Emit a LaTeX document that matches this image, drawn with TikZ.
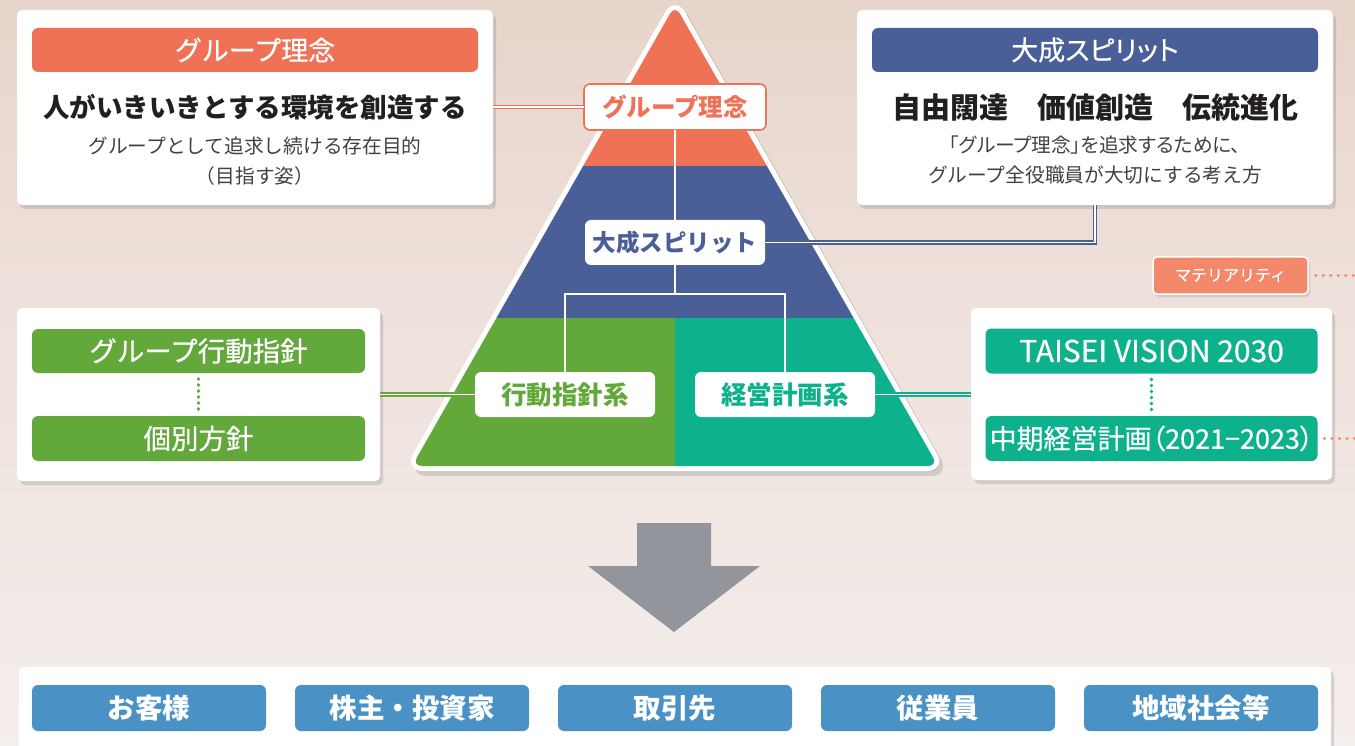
\documentclass[tikz,border=0pt]{standalone}
\usepackage{fontspec}
\newfontfamily\jp{Noto Sans CJK JP}
\newfontfamily\jpp{Noto Sans CJK JP}[RawFeature=+palt]
\newfontfamily\jpm{Noto Sans CJK JP}[FakeBold=0.5]
\newfontfamily\jpmp{Noto Sans CJK JP}[FakeBold=0.5,RawFeature=+palt]
\usetikzlibrary{shadows,calc}
\definecolor{orng}{HTML}{F07256}
\definecolor{blu}{HTML}{4A5E98}
\definecolor{grn}{HTML}{63A83B}
\definecolor{teal2}{HTML}{0DB28C}
\definecolor{btnblue}{HTML}{4A92C6}
\definecolor{salmon}{HTML}{F3886A}
\definecolor{arrowgray}{HTML}{92959B}
\definecolor{darktext}{HTML}{231F20}
\definecolor{subtext}{HTML}{444040}
\definecolor{bgtop}{HTML}{E7D5CB}
\definecolor{bgmid}{HTML}{EFE3DE}
\definecolor{bgbot}{HTML}{F4EEEC}
\tikzset{
  fs/.style={font=\jp\fontsize{#1}{#1}\selectfont},
  fsp/.style={font=\jpp\fontsize{#1}{#1}\selectfont},
  fsm/.style={font=\jpm\fontsize{#1}{#1}\selectfont},
  fsmp/.style={font=\jpmp\fontsize{#1}{#1}\selectfont},
  fsb/.style={font=\jp\bfseries\fontsize{#1}{#1}\selectfont},
  card/.style={fill=white, rounded corners=5pt, inner sep=0pt, outer sep=0pt,
    drop shadow={shadow xshift=3pt, shadow yshift=-4pt, opacity=0.18, fill=black!70}},
  bar/.style={rounded corners=6pt, inner sep=0pt, outer sep=0pt, text=white},
  pnode/.style={fill=white, rounded corners=6pt, inner sep=0pt, outer sep=0pt,
    minimum width=180pt, minimum height=45pt},
  dbl/.style={draw=#1, double=white, double distance=1.8pt, line width=1.3pt},
  dotline/.style={draw=#1, line width=3.8pt, line cap=round, dash pattern=on 0pt off 6pt},
  wline/.style={draw=white, line width=1.8pt},
}
\begin{document}
\begin{tikzpicture}[x=1pt,y=-1pt]
\clip (0,0) rectangle (1355,746);
\shade[top color=bgtop, bottom color=bgbot, middle color=bgmid] (0,0) rectangle (1355,746);

% pyramid
\coordinate (apex) at (675,5);
\coordinate (bl) at (412,466);
\coordinate (br) at (938,466);
\filldraw[black, opacity=0.12, line width=10pt, rounded corners=10pt, line join=round]
  ($(apex)+(4,5)$) -- ($(br)+(4,5)$) -- ($(bl)+(4,5)$) -- cycle;
\draw[white, line width=10pt, rounded corners=10pt, line join=round] (apex) -- (br) -- (bl) -- cycle;
\begin{scope}
\clip[rounded corners=10pt] (apex) -- (br) -- (bl) -- cycle;
\fill[orng] (400,0) rectangle (950,166);
\fill[blu] (400,166) rectangle (950,318);
\fill[grn] (400,318) rectangle (675,480);
\fill[teal2] (675,318) rectangle (950,480);
\end{scope}

% top-left card
\node[card, minimum width=476pt, minimum height=195pt] (tlcard) at (255,107.5) {};
\node[bar, fill=orng, minimum width=446pt, minimum height=44pt, fsm=27] (tlhead) at (255,50) {グループ理念};
\node[fsb=26.5, text=darktext] (tlmain) at (255,107) {人がいきいきとする環境を創造する};
\node[fs=19.7, text=subtext] (tlsub1) at (255,146) {グループとして追求し続ける存在目的};
\node[fs=19.7, text=subtext] (tlsub2) at (255,176) {（目指す姿）};

% top-right card
\node[card, minimum width=476pt, minimum height=195pt] (trcard) at (1095,107.5) {};
\node[bar, fill=blu, minimum width=446pt, minimum height=44pt, fsmp=27] (trhead) at (1095,50) {大成スピリット};
\node[fsb=29, text=darktext] (trmain) at (1095,107) {自由闊達　価値創造　伝統進化};
\node[fsp=19.7, text=subtext] (trsub1) at (1095,145) {「グループ理念」を追求するために、};
\node[fs=19.7, text=subtext] (trsub2) at (1095,175) {グループ全役職員が大切にする考え方};

% left card
\node[card, minimum width=363pt, minimum height=173pt] (lcard) at (198.5,394.5) {};
\node[bar, fill=grn, minimum width=333pt, minimum height=44pt, fsm=27.5] (lb1) at (198.5,351) {グループ行動指針};
\node[bar, fill=grn, minimum width=333pt, minimum height=45pt, fsm=27.5] (lb2) at (198.5,438.5) {個別方針};
\draw[dotline=grn, shorten <=6pt, shorten >=4pt] (lb1.south) -- (lb2.north);

% right card
\node[card, minimum width=361pt, minimum height=172pt] (rcard) at (1151.5,394) {};
\node[bar, fill=teal2, minimum width=332pt, minimum height=45pt, fsm=30] (rb1) at (1151.5,351) {TAISEI VISION 2030};
\node[bar, fill=teal2, minimum width=332pt, minimum height=45pt, fsmp=27] (rb2) at (1151.5,438.5) {中期経営計画（2021−2023）};
\draw[dotline=teal2, shorten <=6pt, shorten >=4pt] (rb1.south) -- (rb2.north);

% materiality
\node[fill=salmon, draw=white, line width=1.5pt, rounded corners=4pt, inner sep=0pt,
  minimum width=155pt, minimum height=37pt, text=white, fsm=16,
  drop shadow={shadow xshift=2pt, shadow yshift=-3pt, opacity=0.15, fill=black!70}] (mat) at (1230.5,275.5) {マテリアリティ};
\coordinate (matend) at (1360,275.5);
\coordinate (rb2end) at (1360,438.5);
\draw[dotline=salmon, dash pattern=on 0pt off 7.5pt, line width=3.4pt, shorten <=7pt] (mat.east) -- (matend);
\draw[dotline=salmon, dash pattern=on 0pt off 7.5pt, line width=3.4pt, shorten <=7pt] (rb2.east) -- (rb2end);

% pyramid nodes
\node[pnode, draw=orng, line width=1.6pt, minimum width=182pt, minimum height=46pt, text=orng, fsb=24.5] (n1) at (675,107) {グループ理念};
\node[pnode, text=blu, fsb=23.5] (n2) at (675,242.5) {大成スピリット};
\node[pnode, text=grn, fsb=25.5] (n3) at (565,394.5) {行動指針系};
\node[pnode, text=teal2, fsb=25.5] (n4) at (785,394.5) {経営計画系};
\coordinate (split) at (675,294);
\draw[wline] (n1.south) -- (n2.north);
\draw[wline] (n2.south) -- (split) -| (n3.north);
\draw[wline] (split) -| (n4.north);

% connectors between cards and pyramid
\draw[dbl=orng] (tlcard.east |- n1.west) -- (n1.west);
\draw[dbl=blu] (n2.east) -| (trcard.south);
\draw[dbl=grn] (lcard.east |- n3.west) -- (n3.west);
\draw[dbl=teal2] (n4.east) -- (rcard.west |- n4.east);

% big arrow
\fill[arrowgray] (637,523) -- (711,523) -- (711,566) -- (760,566) -- (674,632) -- (588,566) -- (637,566) -- cycle;

% bottom card
\node[card, minimum width=1312pt, minimum height=123pt] (bcard) at (675,728.5) {};
\foreach \x/\t/\n in {149/お客様/s1, 412/株主・投資家/s2, 675/取引先/s3, 938/従業員/s4, 1201/地域社会等/s5}{
  \node[bar, fill=btnblue, minimum width=234pt, minimum height=46pt, fsb=27.5] (\n) at (\x,708) {\t};
}
\end{tikzpicture}
\end{document}
